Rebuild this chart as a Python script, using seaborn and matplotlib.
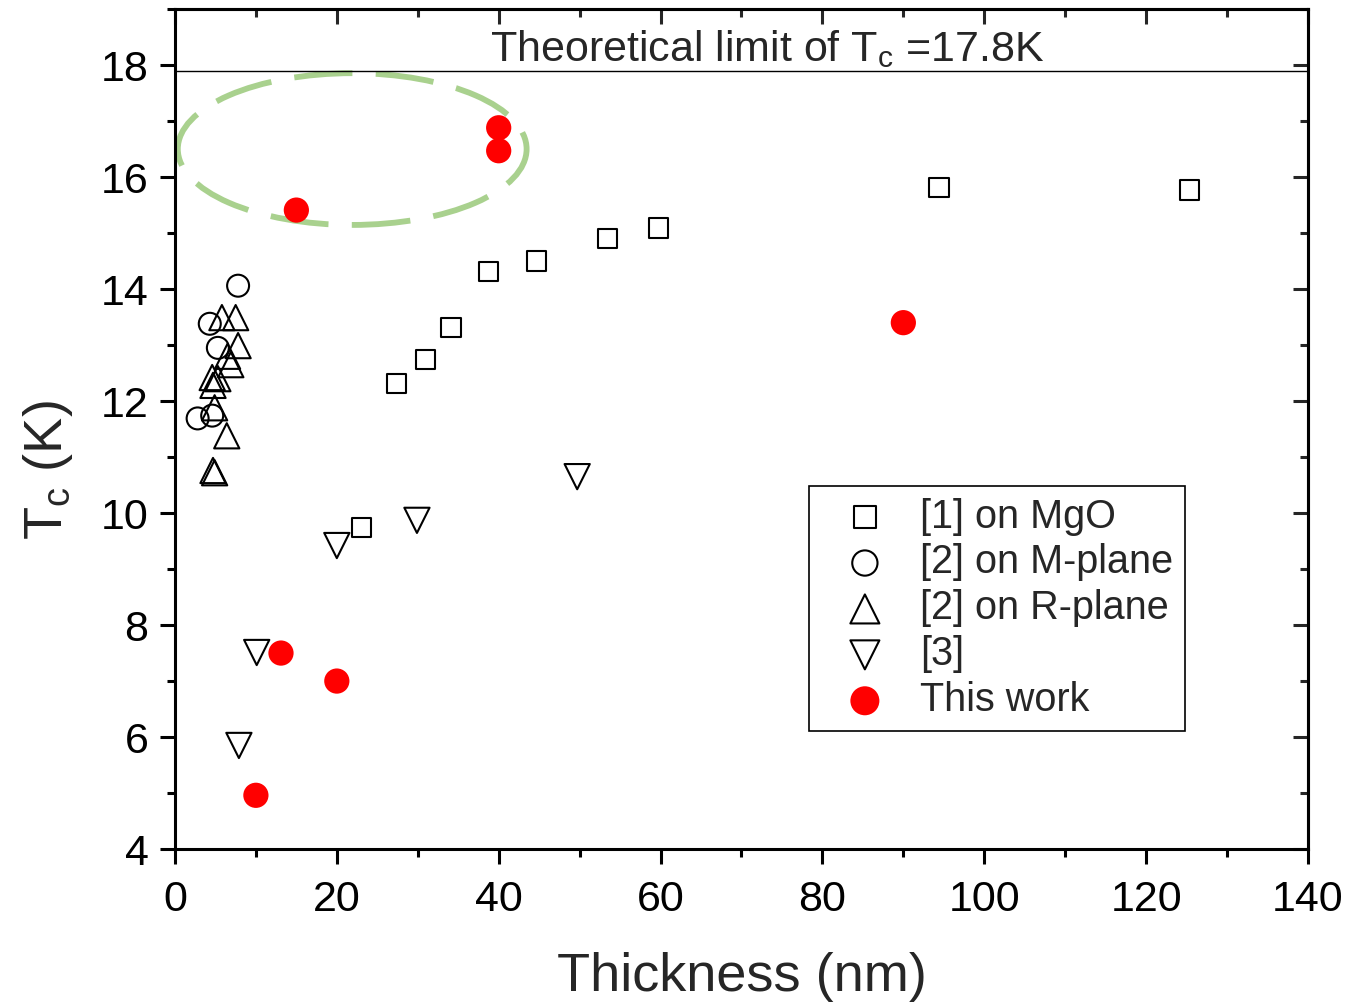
import numpy as np
import pandas as pd
import matplotlib
matplotlib.use("Agg")
import matplotlib.pyplot as plt
from matplotlib.patches import Ellipse
from matplotlib.ticker import MultipleLocator
import seaborn as sns

# Data
mgo_thk = [23.1, 27.4, 31.0, 34.1, 38.7, 44.7, 53.4, 59.7, 94.4, 125.4]
mgo_tc = [9.74, 12.31, 12.74, 13.31, 14.31, 14.50, 14.91, 15.09, 15.81, 15.77]

mplane_thk = [7.8, 4.3, 5.3, 2.8, 4.6]
mplane_tc = [14.06, 13.38, 12.95, 11.69, 11.74]

rplane_thk = [5.8, 7.5, 7.8, 6.5, 6.9, 4.6, 5.3, 4.7, 4.9, 6.4, 4.7, 4.9]
rplane_tc = [13.49, 13.49, 12.99, 12.80, 12.65, 12.42, 12.40, 12.28, 11.88, 11.38, 10.76, 10.72]

ref3_thk = [7.9, 10.1, 20.0, 29.9, 49.7]
ref3_tc = [5.85, 7.51, 9.42, 9.87, 10.65]

this_thk = [15.0, 40.0, 40.0, 90.0, 13.1, 20.0, 10.0]
this_tc = [15.41, 16.88, 16.47, 13.40, 7.50, 7.00, 4.96]

tc_limit = 17.9

sns.set_style("ticks")
plt.rcParams['font.family'] = ['Liberation Sans', 'DejaVu Sans']
plt.rcParams['mathtext.default'] = 'regular'

fig = plt.figure(figsize=(13.49, 10.06), dpi=100)
ax = fig.add_axes([0.1297, 0.156, 0.8399, 0.835])

# highlight ellipse behind the markers
ell = Ellipse((21.9, 16.5), 43.1, 2.71, fill=False, edgecolor='#a9d18e',
              linewidth=4.2, linestyle=(0, (10, 4)), zorder=1)
ax.add_patch(ell)

open_kw = dict(facecolors='none', edgecolor='black', linewidth=1.5, zorder=3)
sns.scatterplot(x=mgo_thk, y=mgo_tc, marker='s', s=190, label='[1] on MgO', ax=ax, **open_kw)
sns.scatterplot(x=mplane_thk, y=mplane_tc, marker='o', s=250, label='[2] on M-plane', ax=ax, **open_kw)
sns.scatterplot(x=rplane_thk, y=rplane_tc, marker='^', s=330, label='[2] on R-plane', ax=ax, **open_kw)
sns.scatterplot(x=ref3_thk, y=ref3_tc, marker='v', s=330, label='[3]', ax=ax, **open_kw)
sns.scatterplot(x=this_thk, y=this_tc, marker='o', s=330, color='#ff0000', edgecolor='none',
                label='This work', ax=ax, zorder=4)

ax.axhline(tc_limit, color='black', linewidth=1.0, zorder=2)
ax.text(73.2, 18.07, 'Theoretical limit of T$_c$ =17.8K', ha='center', va='baseline', fontsize=31)

ax.set_xlim(0, 140)
ax.set_ylim(4, 19)
ax.xaxis.set_major_locator(MultipleLocator(20))
ax.xaxis.set_minor_locator(MultipleLocator(10))
ax.set_yticks(np.arange(4, 19, 2))
ax.yaxis.set_minor_locator(MultipleLocator(1))

for side in ['top', 'right', 'bottom', 'left']:
    ax.spines[side].set_visible(True)
    ax.spines[side].set_linewidth(2.2)
    ax.spines[side].set_color('black')

ax.tick_params(axis='both', which='major', direction='out', length=11, width=2.2,
               labelsize=31, color='black', labelcolor='black')
ax.tick_params(axis='both', which='minor', direction='out', length=6, width=2.2, color='black')
ax.tick_params(axis='x', which='both', pad=11)
ax.tick_params(axis='y', which='both', pad=8)

# mirrored ticks pointing inward on top and right
top = ax.secondary_xaxis('top')
top.set_xticks(np.arange(0, 141, 20))
top.xaxis.set_minor_locator(MultipleLocator(10))
top.tick_params(which='major', direction='in', length=11, width=2.2, labeltop=False)
top.tick_params(which='minor', direction='in', length=6, width=2.2)
right = ax.secondary_yaxis('right')
right.set_yticks(np.arange(4, 19, 2))
right.yaxis.set_minor_locator(MultipleLocator(1))
right.tick_params(which='major', direction='in', length=11, width=2.2, labelright=False)
right.tick_params(which='minor', direction='in', length=6, width=2.2)
for sec in (top, right):
    for sp in sec.spines.values():
        sp.set_linewidth(2.2)

ax.set_xlabel('Thickness (nm)', fontsize=39, labelpad=23)
ax.set_ylabel('T$_c$ (K)', fontsize=39)
ax.yaxis.set_label_coords(-0.088, 0.451)

leg = ax.legend(loc='lower left', bbox_to_anchor=(0.560, 0.1405), fontsize=28.5,
                frameon=True, fancybox=False, edgecolor='black', framealpha=1,
                borderpad=0.3, labelspacing=0.2, handletextpad=0.3, handlelength=2.2,
                borderaxespad=0, markerscale=1.15)
leg.get_frame().set_linewidth(1.2)

fig.savefig('out.png', dpi=100)
